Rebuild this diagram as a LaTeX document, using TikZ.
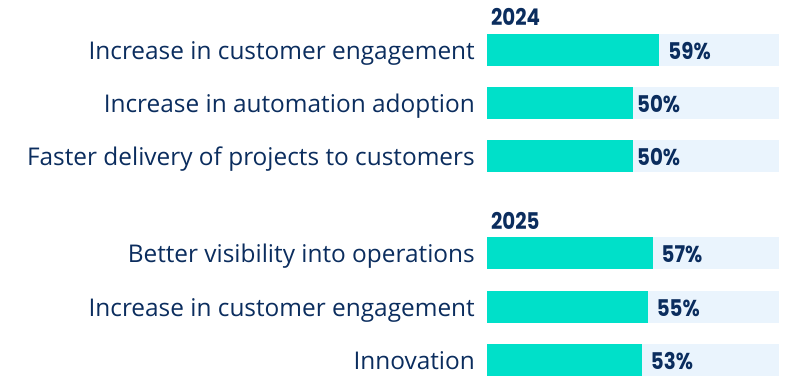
\documentclass[tikz,border=0pt]{standalone}
\usepackage{fontspec}
\setmainfont{Open Sans}
\newfontfamily\numfont[FakeStretch=0.86]{Poppins}
\usetikzlibrary{positioning}
\definecolor{barfill}{HTML}{00E0C9}
\definecolor{bartrack}{HTML}{EAF4FD}
\definecolor{navy}{HTML}{0B2D5E}
\tikzset{
  itemlabel/.style={anchor=base east, text=navy, inner sep=0pt,
    font=\fontsize{24.4}{28}\selectfont},
  pctlabel/.style={anchor=base west, text=navy, inner sep=0pt, text depth=0pt,
    font=\numfont\bfseries\fontsize{23}{27}\selectfont},
  yearlabel/.style={pctlabel}
}

\begin{document}
\begin{tikzpicture}[y=-1pt,x=1pt]
	\useasboundingbox (0,0) rectangle (785,376);
	% #1 name, #2 top of bar, #3 percent, #4 gap, #5 label
	\newcommand\Bar[5]{
		\fill[bartrack] (487,#2) rectangle +(292,32);
		\fill[barfill] (487,#2) rectangle +(2.92*#3,32);
		\node[itemlabel] (#1-label) at (475,#2+25) {#5};
		\node[pctlabel] (#1-pct) at (487+2.92*#3+#4,#2+25) {#3\%};
	}

	\node[yearlabel] (year24) at (491,25) {2024};
	\Bar{engage24}{34}{59}{9}{Increase in customer engagement}
	\Bar{auto24}{87}{50}{4}{Increase in automation adoption}
	\Bar{faster24}{140}{50}{4}{Faster delivery of projects to customers}

	\node[yearlabel] (year25) at (491,229) {2025};
	\Bar{visib25}{237}{57}{8}{Better visibility into operations}
	\Bar{engage25}{291}{55}{9}{Increase in customer engagement}
	\Bar{innov25}{344}{53}{9}{Innovation}
\end{tikzpicture}
\end{document}
